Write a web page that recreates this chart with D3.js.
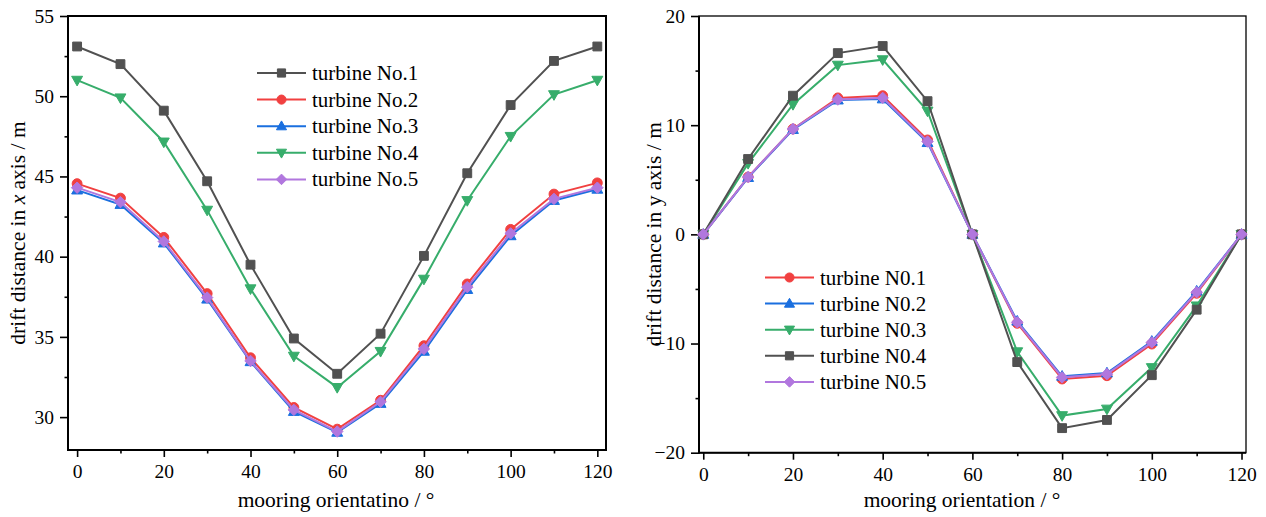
<!DOCTYPE html>
<html>
<head>
<meta charset="utf-8">
<script src="https://cdn.jsdelivr.net/npm/d3@7"></script>
<style>
  body { margin: 0; background: #fff; }
  text { font-family: "Liberation Serif", "Times New Roman", serif; fill: #000; }
</style>
</head>
<body>
<svg id="chart" width="1266" height="517"></svg>
<script>
// mooring orientation (deg)
var angles = [0, 10, 20, 30, 40, 50, 60, 70, 80, 90, 100, 110, 120];

// left panel: drift in x axis
var xNo1 = [53.1, 52.0, 49.1, 44.7, 39.5, 34.9, 32.7, 35.2, 40.05, 45.2, 49.45, 52.2, 53.1];
var xNo2 = [44.55, 43.65, 41.2, 37.7, 33.7, 30.6, 29.25, 31.05, 34.45, 38.3, 41.7, 43.9, 44.6];
var xNo3 = [44.15, 43.25, 40.85, 37.35, 33.45, 30.35, 29.05, 30.85, 34.1, 37.95, 41.3, 43.5, 44.2];
var xNo4 = [51.0, 49.9, 47.15, 42.9, 38.0, 33.8, 31.85, 34.1, 38.6, 43.5, 47.5, 50.1, 51.0];
var xNo5 = [44.3, 43.4, 40.95, 37.45, 33.5, 30.45, 29.1, 30.95, 34.25, 38.1, 41.45, 43.6, 44.3];

// right panel: drift in y axis
var yN01 = [0, 5.25, 9.65, 12.5, 12.7, 8.65, 0, -8.15, -13.25, -12.95, -10.05, -5.4, 0];
var yN02 = [0, 5.2, 9.6, 12.3, 12.4, 8.4, 0, -7.95, -13.0, -12.7, -9.8, -5.2, 0];
var yN03 = [0, 6.5, 11.9, 15.5, 16.0, 11.3, 0, -10.75, -16.6, -16.0, -12.2, -6.55, 0];
var yN04 = [0, 6.9, 12.7, 16.6, 17.25, 12.2, 0, -11.7, -17.75, -17.0, -12.9, -6.9, 0];
var yN05 = [0, 5.25, 9.65, 12.35, 12.5, 8.5, 0, -8.05, -13.1, -12.8, -9.9, -5.3, 0];

var xTicks = [0, 20, 40, 60, 80, 100, 120];
var xMinor = [10, 30, 50, 70, 90, 110];
var leftTicks = [30, 35, 40, 45, 50, 55];
var leftMinor = [32.5, 37.5, 42.5, 47.5, 52.5];
var rightTicks = [-20, -10, 0, 10, 20];
var rightMinor = [-15, -5, 5, 15];

var gray = "#515151", red = "#F14040", blue = "#1A6FDF", green = "#37AD6B", purple = "#B177DE";
var serif = "Liberation Serif";

var leftSeries = [
  {name: "turbine No.1", values: xNo1, color: gray, sym: "square"},
  {name: "turbine No.2", values: xNo2, color: red, sym: "circle"},
  {name: "turbine No.3", values: xNo3, color: blue, sym: "up"},
  {name: "turbine No.4", values: xNo4, color: green, sym: "down"},
  {name: "turbine No.5", values: xNo5, color: purple, sym: "diamond"}
];
var rightSeries = [
  {name: "turbine N0.1", values: yN01, color: red, sym: "circle"},
  {name: "turbine N0.2", values: yN02, color: blue, sym: "up"},
  {name: "turbine N0.3", values: yN03, color: green, sym: "down"},
  {name: "turbine N0.4", values: yN04, color: gray, sym: "square"},
  {name: "turbine N0.5", values: yN05, color: purple, sym: "diamond"}
];

var svg = d3.select("#chart");

// origin-like markers, k = half size
function markerPath(sym, k) {
  var p = d3.path();
  if (sym === "square") { p.rect(-k * 0.85, -k * 0.85, k * 1.7, k * 1.7); }
  else if (sym === "circle") { p.arc(0, 0, k * 0.95, 0, 2 * Math.PI); }
  else if (sym === "diamond") { p.moveTo(0, -k * 1.1); p.lineTo(k * 1.1, 0); p.lineTo(0, k * 1.1); p.lineTo(-k * 1.1, 0); p.closePath(); }
  else if (sym === "up") { p.moveTo(0, -k * 1.1); p.lineTo(k * 1.05, k * 0.75); p.lineTo(-k * 1.05, k * 0.75); p.closePath(); }
  else { p.moveTo(0, k * 1.1); p.lineTo(k * 1.05, -k * 0.75); p.lineTo(-k * 1.05, -k * 0.75); p.closePath(); }
  return p.toString();
}

function panel(opt) {
  var x = d3.scaleLinear().domain(opt.xDomain).range([opt.left, opt.right]);
  var y = d3.scaleLinear().domain(opt.yDomain).range([opt.bottom, opt.top]);
  var g = svg.append("g");

  // frame
  g.append("rect")
    .attr("x", opt.left).attr("y", opt.top)
    .attr("width", opt.right - opt.left).attr("height", opt.bottom - opt.top)
    .attr("fill", "none").attr("stroke", "#000").attr("stroke-width", opt.frameW);

  // x axis
  var xa = g.append("g").attr("transform", "translate(0," + opt.bottom + ")")
    .call(d3.axisBottom(x).tickValues(xTicks).tickSize(7).tickPadding(7).tickFormat(d3.format("d")))
    .attr("font-family", serif);
  xa.select(".domain").remove();
  xa.selectAll("line").attr("stroke-width", 1.6);
  xa.selectAll("text").attr("font-size", 19.5).style("font-family", serif);
  var xm = g.append("g").attr("transform", "translate(0," + opt.bottom + ")")
    .call(d3.axisBottom(x).tickValues(xMinor).tickSize(3.5).tickFormat(""));
  xm.select(".domain").remove();
  xm.selectAll("line").attr("stroke-width", 1.6);

  // y axis
  var ya = g.append("g").attr("transform", "translate(" + opt.left + ",0)")
    .call(d3.axisLeft(y).tickValues(opt.yTicks).tickSize(8).tickPadding(6).tickFormat(d3.format("d")))
    .attr("font-family", serif);
  ya.select(".domain").remove();
  ya.selectAll("line").attr("stroke-width", 1.6);
  ya.selectAll("text").attr("font-size", 19.5).style("font-family", serif);
  var ym = g.append("g").attr("transform", "translate(" + opt.left + ",0)")
    .call(d3.axisLeft(y).tickValues(opt.yMinor).tickSize(3.5).tickFormat(""));
  ym.select(".domain").remove();
  ym.selectAll("line").attr("stroke-width", 1.6);

  // axis lines thicker on left/bottom
  g.append("line").attr("x1", opt.left).attr("x2", opt.left).attr("y1", opt.top).attr("y2", opt.bottom + 1)
    .attr("stroke", "#000").attr("stroke-width", 2);
  g.append("line").attr("x1", opt.left - 1).attr("x2", opt.right).attr("y1", opt.bottom).attr("y2", opt.bottom)
    .attr("stroke", "#000").attr("stroke-width", 2);

  // titles
  g.append("text").attr("x", opt.xTitleX).attr("y", 507).attr("text-anchor", "middle")
    .attr("font-size", 21.5).text(opt.xTitle);
  var yt = g.append("text")
    .attr("transform", "translate(" + opt.yTitleX + "," + ((opt.top + opt.bottom) / 2) + ") rotate(-90)")
    .attr("text-anchor", "middle").attr("font-size", 21.5);
  opt.yTitle.forEach(function(part) {
    yt.append("tspan").attr("font-style", part.italic ? "italic" : null).text(part.t);
  });

  // series
  var line = d3.line().x(function(d, i) { return x(angles[i]); }).y(function(d) { return y(d); });
  opt.series.forEach(function(s) {
    g.append("path").datum(s.values).attr("d", line)
      .attr("fill", "none").attr("stroke", s.color).attr("stroke-width", 2);
    g.selectAll(null).data(s.values).enter().append("path")
      .attr("d", markerPath(s.sym, 5.2))
      .attr("transform", function(d, i) { return "translate(" + x(angles[i]) + "," + y(d) + ")"; })
      .attr("fill", s.color).attr("stroke", s.color).attr("stroke-width", 1);
  });

  // legend
  var lg = g.append("g");
  opt.series.forEach(function(s, i) {
    var ly = opt.legY + i * opt.legStep;
    lg.append("line").attr("x1", opt.legX).attr("x2", opt.legX + 49).attr("y1", ly).attr("y2", ly)
      .attr("stroke", s.color).attr("stroke-width", 2);
    lg.append("path").attr("d", markerPath(s.sym, 4.8))
      .attr("transform", "translate(" + (opt.legX + 24.5) + "," + ly + ")")
      .attr("fill", s.color).attr("stroke", s.color).attr("stroke-width", 1);
    lg.append("text").attr("x", opt.legX + 55).attr("y", ly + 7).attr("font-size", 21).text(s.name);
  });
}

panel({
  left: 68, right: 606, top: 16, bottom: 450,
  xDomain: [-2.1, 122], yDomain: [27.95, 55],
  yTicks: leftTicks, yMinor: leftMinor, frameW: 2,
  series: leftSeries,
  xTitle: "mooring orientatino / \u00b0", xTitleX: 336,
  yTitle: [{t: "drift distance in "}, {t: "x", italic: true}, {t: " axis / m"}], yTitleX: 25,
  legX: 257, legY: 73, legStep: 26.6
});

panel({
  left: 699, right: 1246, top: 16, bottom: 452.7,
  xDomain: [-0.95, 121], yDomain: [-20, 20],
  yTicks: rightTicks, yMinor: rightMinor, frameW: 1.3,
  series: rightSeries,
  xTitle: "mooring orientation / \u00b0", xTitleX: 962,
  yTitle: [{t: "drift distance in y axis / m"}], yTitleX: 661,
  legX: 765, legY: 277.5, legStep: 26.1
});
</script>
</body>
</html>
